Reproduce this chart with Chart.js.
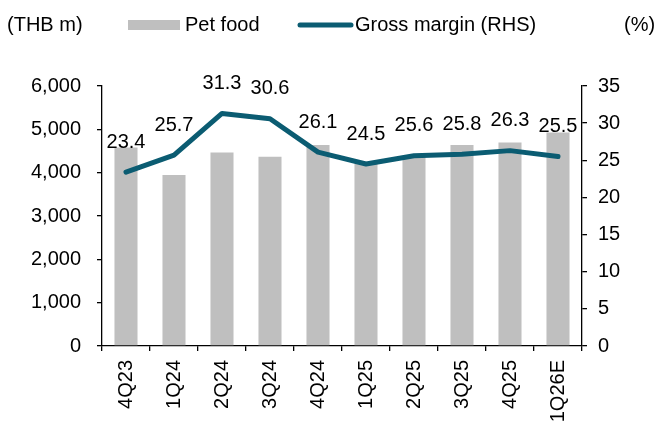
<!DOCTYPE html>
<html>
<head>
<meta charset="utf-8">
<script src="https://cdn.jsdelivr.net/npm/chart.js@4.4.0/dist/chart.umd.min.js"></script>
<style>
  html, body { margin: 0; padding: 0; background: #fff; }
  #wrap { width: 662px; height: 423px; }
</style>
</head>
<body>
<div id="wrap"><canvas id="chart" width="662" height="423"></canvas></div>
<script>
  'use strict';

  const quarters = ['4Q23', '1Q24', '2Q24', '3Q24', '4Q24', '1Q25', '2Q25', '3Q25', '4Q25', '1Q26E'];
  const petFood = [4580, 3945, 4465, 4365, 4640, 4220, 4380, 4640, 4695, 4925];
  const grossMargin = [23.4, 25.7, 31.3, 30.6, 26.1, 24.5, 25.6, 25.8, 26.3, 25.5];
  const leftTicks = [0, 1000, 2000, 3000, 4000, 5000, 6000];
  const rightTicks = [0, 5, 10, 15, 20, 25, 30, 35];

  const GREY = '#bfbfbf';
  const TEAL = '#0b5c72';
  const FONT = '"Liberation Sans", Arial, sans-serif';
  const nf = new Intl.NumberFormat('en-US');

  // value labels above the margin line
  const lineLabels = {
    id: 'lineLabels',
    afterDatasetsDraw(chart) {
      const meta = chart.getDatasetMeta(1);
      const ctx = chart.ctx;
      ctx.save();
      ctx.font = '20px ' + FONT;
      ctx.fillStyle = '#000';
      ctx.textAlign = 'center';
      ctx.textBaseline = 'middle';
      meta.data.forEach((pt, i) => {
        ctx.fillText(grossMargin[i].toFixed(1), pt.x, pt.y - 30);
      });
      ctx.restore();
    },
  };

  // legend and unit captions along the top
  const topLegend = {
    id: 'topLegend',
    afterDraw(chart) {
      const ctx = chart.ctx;
      const y = 25;
      ctx.save();
      ctx.font = '20px ' + FONT;
      ctx.fillStyle = '#000';
      ctx.textBaseline = 'middle';
      ctx.textAlign = 'left';
      ctx.fillText('(THB m)', 7, y);
      ctx.fillText('(%)', 624, y);

      ctx.fillStyle = GREY;
      ctx.fillRect(128, y - 5, 52, 10);
      ctx.fillStyle = '#000';
      ctx.fillText('Pet food', 185, y);

      ctx.strokeStyle = TEAL;
      ctx.lineWidth = 5;
      ctx.lineCap = 'round';
      ctx.beginPath();
      ctx.moveTo(300, y);
      ctx.lineTo(351, y);
      ctx.stroke();
      ctx.fillText('Gross margin (RHS)', 355, y);
      ctx.restore();
    },
  };

  const axisStyle = {
    border: { display: true, color: '#000', width: 1.3 },
    grid: { drawOnChartArea: false, drawTicks: true, tickLength: 5, color: '#000', lineWidth: 1.3 },
  };

  new Chart(document.getElementById('chart'), {
    data: {
      labels: quarters,
      datasets: [
        {
          type: 'bar',
          label: 'Pet food',
          data: petFood,
          backgroundColor: GREY,
          barPercentage: 0.48,
          categoryPercentage: 1,
          yAxisID: 'y',
          order: 1,
        },
        {
          type: 'line',
          label: 'Gross margin (RHS)',
          data: grossMargin,
          borderColor: TEAL,
          borderWidth: 5,
          borderJoinStyle: 'round',
          borderCapStyle: 'round',
          pointRadius: 0,
          tension: 0,
          yAxisID: 'y1',
          order: 0,
        },
      ],
    },
    options: {
      responsive: false,
      animation: false,
      devicePixelRatio: 1,
      layout: { padding: { top: 86, left: 0, right: 0, bottom: 0 } },
      plugins: { legend: { display: false }, tooltip: { enabled: false } },
      scales: {
        x: {
          ...axisStyle,
          ticks: {
            color: '#000',
            font: { family: FONT, size: 20 },
            minRotation: 90,
            maxRotation: 90,
            padding: 9,
          },
          afterFit(scale) { scale.height = 77; },
        },
        y: {
          ...axisStyle,
          position: 'left',
          min: 0,
          max: 6000,
          afterBuildTicks(scale) { scale.ticks = leftTicks.map(v => ({ value: v })); },
          ticks: {
            color: '#000',
            font: { family: FONT, size: 20 },
            padding: 16,
            callback: v => nf.format(v),
          },
          afterFit(scale) { scale.width = 102; },
        },
        y1: {
          ...axisStyle,
          position: 'right',
          min: 0,
          max: 35,
          afterBuildTicks(scale) { scale.ticks = rightTicks.map(v => ({ value: v })); },
          ticks: {
            color: '#000',
            font: { family: FONT, size: 20 },
            padding: 11,
          },
          afterFit(scale) { scale.width = 80; },
        },
      },
    },
    plugins: [lineLabels, topLegend],
  });
</script>
</body>
</html>
